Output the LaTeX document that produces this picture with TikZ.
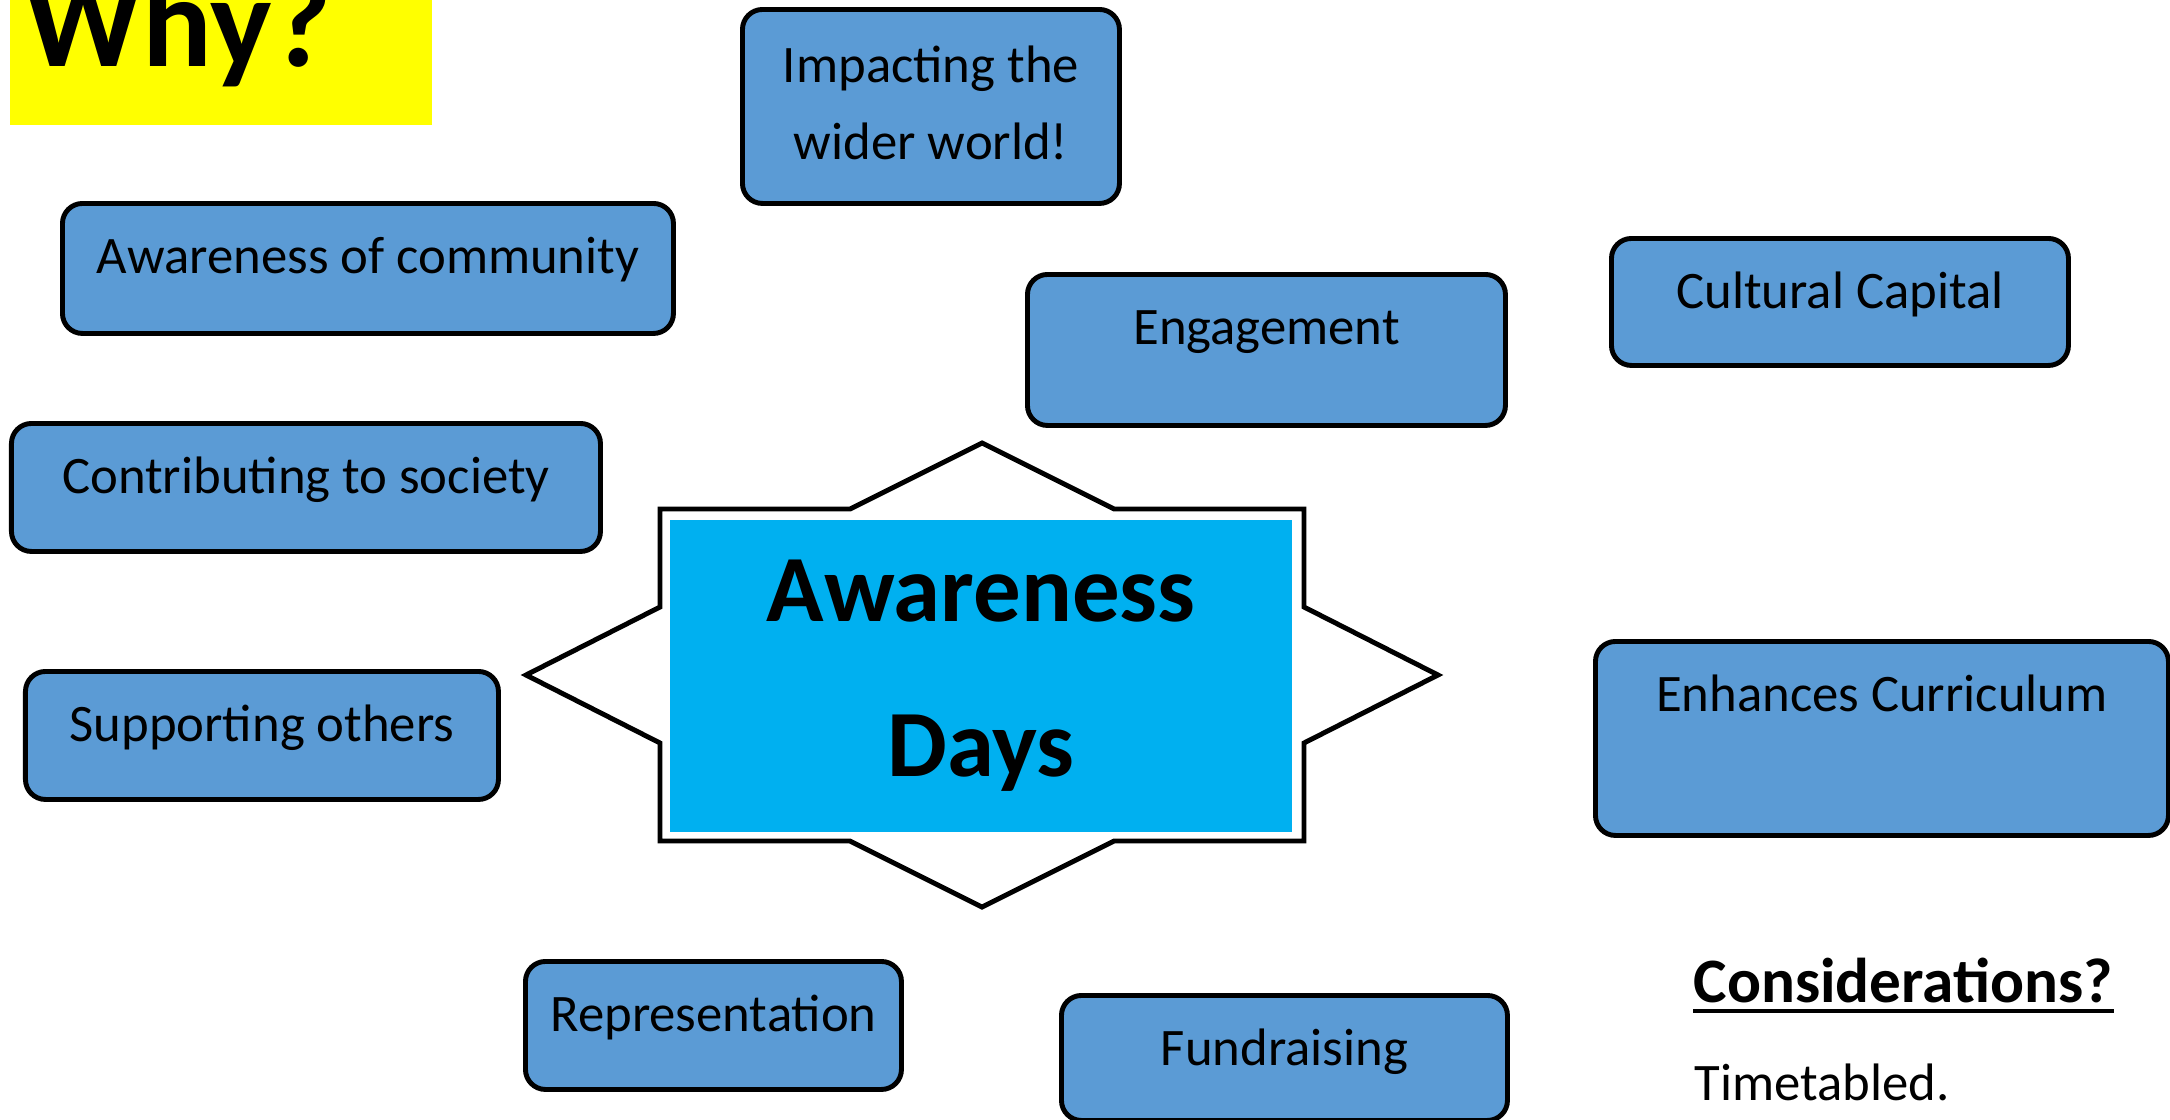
\documentclass[tikz,border=0pt]{standalone}
\usepackage{fontspec}
\setmainfont{Carlito}
\usepackage{tikz}
\definecolor{topicblue}{HTML}{5B9BD5}
\definecolor{daysblue}{HTML}{00B0F0}
\definecolor{whyyellow}{HTML}{FFFF00}

\begin{document}
\begin{tikzpicture}[x=1cm, y=-1cm,
  topic/.style={draw, line width=1.4pt, fill=topicblue, rounded corners=0.2cm,
    anchor=north west, inner sep=0pt, text height=0.70cm,
    font=\fontsize{15}{21.9}\selectfont}]
\useasboundingbox (0,0) rectangle (21.70,11.20);
\fill [whyyellow] (0.10,0) rectangle (4.32,1.25);
\node [anchor=base west, inner sep=0pt, font=\fontsize{37}{44}\selectfont\bfseries] (why) at (0.24,0.67) {Why?};
\node [topic, minimum width=3.77cm, align=center, text height=1.50cm, text depth=0.44cm] (impact) at (7.40,0.07) {Impacting the\\wider world!};
\node [topic, minimum width=6.11cm, text depth=0.60cm] (community) at (0.60,2.01) {Awareness of community};
\node [topic, minimum width=4.78cm, text depth=0.81cm] (engage) at (10.25,2.72) {Engagement};
\node [topic, minimum width=4.57cm, text depth=0.57cm] (culture) at (16.09,2.36) {Cultural Capital};
\node [topic, minimum width=5.89cm, text depth=0.58cm] (society) at (0.09,4.21) {Contributing to society};
\node [topic, minimum width=4.73cm, text depth=0.58cm] (support) at (0.23,6.69) {Supporting others};
\node [topic, minimum width=5.73cm, text depth=1.24cm] (curriculum) at (15.93,6.39) {Enhances Curriculum};
\node [topic, minimum width=3.76cm, text depth=0.58cm] (represent) at (5.23,9.59) {Representation};
\node [topic, minimum width=4.46cm, text depth=0.55cm] (funds) at (10.59,9.93) {Fundraising};
\draw [line width=1.4pt, fill=white] (9.82,4.43) -- (11.14,5.09) -- (13.04,5.09) -- (13.04,6.07)
        -- (14.38,6.75) -- (13.04,7.43) -- (13.04,8.41) -- (11.14,8.41) -- (9.82,9.07)
        -- (8.50,8.41) -- (6.60,8.41) -- (6.60,7.43) -- (5.26,6.75) -- (6.60,6.07)
        -- (6.60,5.09) -- (8.50,5.09) -- cycle;
\node [fill=daysblue, minimum width=6.22cm, minimum height=3.12cm, inner sep=0pt, align=center,
        font=\fontsize{27}{44}\selectfont\bfseries] (days) at (9.81,6.76) {Awareness\\Days};
\node [anchor=base west, inner sep=0pt, font=\fontsize{18}{22}\selectfont\bfseries] (consider) at (16.93,10.02) {Considerations?};
\draw [line width=1.1pt] ([yshift=-0.09cm]consider.base west) -- ([yshift=-0.09cm]consider.base east);
\node [anchor=base west, inner sep=0pt, font=\fontsize{15}{18}\selectfont] (timetable) at (16.94,11.00) {Timetabled.};
\end{tikzpicture}
\end{document}
